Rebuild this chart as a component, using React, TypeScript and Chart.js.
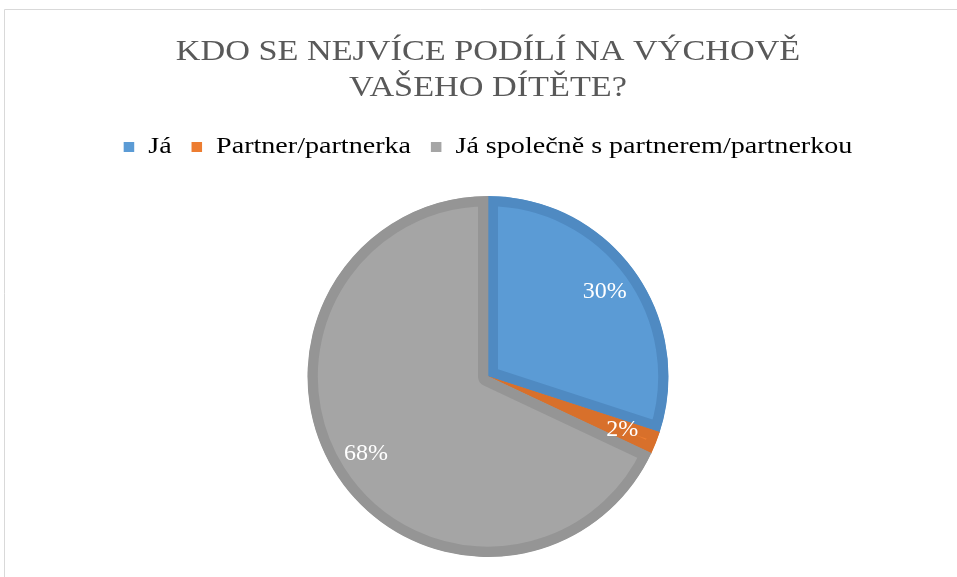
import React, { useEffect, useRef } from "react";
import { Chart, registerables } from "chart.js";

Chart.register(...registerables);

const titleLines = ["KDO SE NEJVÍCE PODÍLÍ NA VÝCHOVĚ", "VAŠEHO DÍTĚTE?"];
const categories = ["Já", "Partner/partnerka", "Já společně s partnerem/partnerkou"];
const values = [30, 2, 68];
const fillColors = ["#5B9BD5", "#ED7D31", "#A5A5A5"];
const edgeColors = ["#4F8AC2", "#D8702B", "#959595"];

const FONT = '"Liberation Serif", "Times New Roman", serif';

const frame = {
  id: "frame",
  beforeDraw(chart: any) {
    const ctx = chart.ctx;
    ctx.save();
    ctx.strokeStyle = "#D9D9D9";
    ctx.lineWidth = 1;
    ctx.beginPath();
    ctx.moveTo(4.5, chart.height);
    ctx.lineTo(4.5, 9.5);
    ctx.lineTo(chart.width, 9.5);
    ctx.stroke();
    ctx.restore();
  },
};

// the reference's text is drawn a little wider than Liberation Serif
function withStretch(obj: any, sx: number) {
  const orig = obj.draw;
  obj.draw = function (...args: any[]) {
    const ctx = this.ctx;
    const cx = this.left + this.width / 2;
    ctx.save();
    ctx.translate(cx, 0);
    ctx.scale(sx, 1);
    ctx.translate(-cx, 0);
    const r = orig.apply(this, args);
    ctx.restore();
    return r;
  };
}

const textTweaks = {
  id: "textTweaks",
  beforeInit(chart: any) {
    const legend = chart.legend;
    const fit = legend.fit;
    legend.fit = function () {
      fit.call(this);
      this.height += 27;
    };
    withStretch(legend, 1.17);
    if (chart.titleBlock) withStretch(chart.titleBlock, 1.18);
  },
};

const pctLabels = {
  id: "pctLabels",
  afterDatasetsDraw(chart: any) {
    const ctx = chart.ctx;
    const meta = chart.getDatasetMeta(0);
    const data = chart.data.datasets[0].data as number[];
    const total = data.reduce((a, b) => a + b, 0);
    ctx.save();
    ctx.fillStyle = "#FFFFFF";
    ctx.font = `24px ${FONT}`;
    ctx.textAlign = "center";
    ctx.textBaseline = "middle";
    meta.data.forEach((arc: any, i: number) => {
      const p = arc.getProps(["x", "y", "startAngle", "endAngle", "outerRadius"], true);
      const mid = (p.startAngle + p.endAngle) / 2;
      const r = p.outerRadius * 0.8;
      const txt = Math.round((data[i] / total) * 100) + "%";
      ctx.fillText(txt, p.x + Math.cos(mid) * r, p.y + Math.sin(mid) * r);
    });
    ctx.restore();
  },
};

export default function App() {
  const ref = useRef<HTMLCanvasElement | null>(null);
  useEffect(() => {
    if (!ref.current) return;
    const chart = new Chart(ref.current, {
      type: "pie",
      data: {
        labels: categories,
        datasets: [
          {
            data: values,
            backgroundColor: fillColors,
            borderColor: edgeColors,
            borderWidth: 10,
            borderAlign: "inner",
          },
        ],
      },
      options: {
        responsive: false,
        animation: false,
        layout: { padding: { left: 19, right: 0, top: 0, bottom: 20 } },
        plugins: {
          tooltip: { enabled: false },
          title: {
            display: true,
            text: titleLines,
            color: "#595959",
            font: { family: FONT, size: 29, weight: "normal", lineHeight: 36 / 29 },
            padding: { top: 34, bottom: 12 },
          },
          legend: {
            display: true,
            position: "top",
            labels: {
              color: "#595959",
              font: { family: FONT, size: 24 },
              boxWidth: 9,
              boxHeight: 10,
              padding: 17,
              generateLabels: (c: any) =>
                c.data.labels.map((t: string, i: number) => ({
                  text: t,
                  fillStyle: fillColors[i],
                  strokeStyle: fillColors[i],
                  lineWidth: 0,
                  hidden: false,
                  index: i,
                })),
            },
          },
        },
      },
      plugins: [frame, textTweaks, pctLabels],
    });
    return () => chart.destroy();
  }, []);
  return (
    <div style={{ position: "fixed", left: 0, top: 0, width: 957, height: 577, background: "#fff" }}>
      <canvas ref={ref} width={957} height={577} style={{ display: "block" }} />
    </div>
  );
}
